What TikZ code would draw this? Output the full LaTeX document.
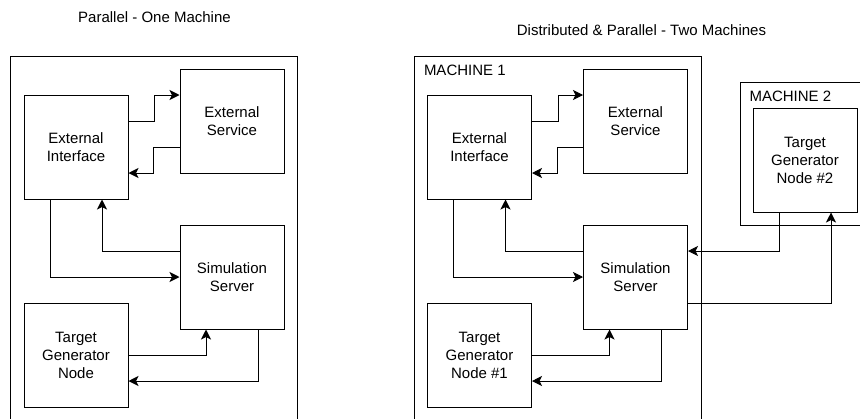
\documentclass[tikz,border=0pt]{standalone}
\usepackage{fontspec}
\setmainfont{Liberation Sans}
\usepackage{tikz}
\usetikzlibrary{arrows.meta,positioning}
\newcommand{\boxs}{104pt}
\newcommand{\offs}{26pt}

\begin{document}
\begin{tikzpicture}[x=1pt,y=-1pt,line width=1pt]
            \tikzset{blk/.style = {draw, minimum size=\boxs, inner sep=0pt, align=center, font=\fontsize{15}{18}\selectfont}}
            \tikzset{lbl/.style = {inner sep=0pt, anchor=base, font=\fontsize{15}{18}\selectfont}}
            \tikzset{wire/.style = {-{Stealth[length=10pt,width=10pt,inset=2.5pt]}}}
            \useasboundingbox (0,0) rectangle (860,418);
            \clip (0,0) rectangle (860,418);
            %\draw[help lines,step=20] (0,0) grid (860,418);
            \node[lbl] (t0) at (154.5,22) {Parallel - One Machine};
            \node[lbl] (t1) at (641.5,35.5) {Distributed \& Parallel - Two Machines};
            \pgfmathtruncatemacro{\zero}{0}
                \foreach \w in {0, 1} {
                    \pgfmathsetmacro{\sx}{403.5 * \w}
                    \begin{scope}[shift={(\sx,0)}]
                        \draw (10.5,56) rectangle (297.5,440);
                        \node[blk] (ei\w) at (76,147) {External\\Interface};
                        \node[blk] (es\w) at (232,121) {External\\Service};
                        \node[blk] (ss\w) at (232,277) {Simulation\\Server};
                        \ifnum\w=\zero
                            \node[blk] (tg\w) at (76,355) {Target\\Generator\\Node};
                        \else
                            \node[lbl, anchor=base west] (m1) at (20,75) {MACHINE 1};
                            \node[blk] (tg\w) at (76,355) {Target\\Generator\\Node \#1};
                        \fi
                        \draw[wire] ([yshift=\offs]ei\w.east) -- ++(26,0) |- ([yshift=\offs]es\w.west);
                        \draw[wire] ([yshift=-\offs]es\w.west) -- ++(-26,0) |- ([yshift=-\offs]ei\w.east);
                        \draw[wire] ([yshift=\offs]ss\w.west) -| ([xshift=\offs]ei\w.south);
                        \draw[wire] ([xshift=-\offs]ei\w.south) |- (ss\w.west);
                        \draw[wire] (tg\w.east) -| ([xshift=-\offs]ss\w.south);
                        \draw[wire] ([xshift=\offs]ss\w.south) |- ([yshift=-\offs]tg\w.east);
                    \end{scope}
                }
            % second machine
            \draw (740,82) rectangle (890,225);
            \node[lbl, anchor=base west] (m2) at (749,101) {MACHINE 2};
            \node[blk] (tg2) at (805,160) {Target\\Generator\\Node \#2};
            \draw[wire] ([xshift=-\offs]tg2.south) |- ([yshift=\offs]ss1.east);
            \draw[wire] ([yshift=-\offs]ss1.east) -| ([xshift=\offs]tg2.south);
\end{tikzpicture}
\end{document}
